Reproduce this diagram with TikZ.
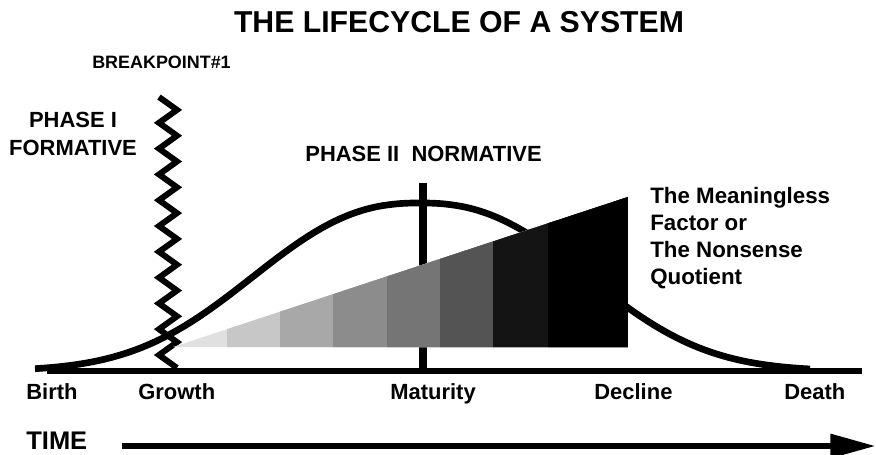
\documentclass[tikz,border=0pt]{standalone}
\usepackage{fontspec}
\setmainfont{Liberation Sans}
\usetikzlibrary{arrows.meta,positioning}

\begin{document}
\begin{tikzpicture}[x=0.02cm,y=-0.02cm,
    every node/.style={inner sep=0pt},
    lbl/.style={font=\fontsize{12.5}{15}\selectfont\bfseries},
    nlbl/.style={font=\fontsize{12.7}{15.5}\selectfont\bfseries},
    lifeline/.style={line width=3.8pt},
    rule/.style={line width=3.4pt}]
    \useasboundingbox (0,0) rectangle (876,454);

    % life curve
    \draw[lifeline] plot[smooth,domain=35:810,samples=90]
        (\x,{371-168*exp(-((abs(\x-420)+0.01)/210)^2.4)});

    % maturity marker
    \coordinate (mtop) at (423,183);
    \coordinate (mbot) at (423,371);
    \draw[line width=4pt] (mtop) -- (mbot);

    % breakpoint #1
    \draw[rule] (159,97) \foreach \k in {1,...,21}{ -- ({159+18*mod(\k,2)},{97+\k*12.9}) };

    % time axis
    \coordinate (axL) at (47,371);
    \coordinate (axR) at (862,371);
    \draw[rule] (axL) -- (axR);

    % nonsense wedge
    \begin{scope}
        \clip (173,347) -- (628,197) -- (628,347) -- cycle;
        \foreach \xa/\g in {173/88,227/78,280/66,333/55,387/46,440/33,493/8,548/0}
            \fill[white!\g!black] (\xa,190) rectangle (628,348);
    \end{scope}

    \node[font=\fontsize{17.2}{20}\selectfont\bfseries, anchor=base] (title) at (459,32) {THE LIFECYCLE OF A SYSTEM};
    \node[font=\fontsize{10.2}{12}\selectfont\bfseries, anchor=base] (bp) at (161.5,68) {BREAKPOINT\#1};
    \node[lbl, anchor=base] (ph1) at (73,127) {PHASE I};
    \node[lbl, anchor=base] (form) at ([yshift=-16.4pt]ph1.base) {FORMATIVE};
    \node[lbl, anchor=base west] (ph2) at (305,161) {PHASE II\ \ NORMATIVE};

    \node[nlbl, anchor=base west] (mf1) at (650,203) {The Meaningless};
    \node[nlbl, anchor=base west] (mf2) at ([yshift=-15.5pt]mf1.base west) {Factor or};
    \node[nlbl, anchor=base west] (mf3) at ([yshift=-15.5pt]mf2.base west) {The Nonsense};
    \node[nlbl, anchor=base west] (mf4) at ([yshift=-15.5pt]mf3.base west) {Quotient};

    \node[lbl, anchor=base west] (birth) at (26,399) {Birth};
    \node[lbl, anchor=base west] (growth) at (138,399) {Growth};
    \node[lbl, anchor=base west] (maturity) at (390,399) {Maturity};
    \node[lbl, anchor=base west] (decline) at (594,399) {Decline};
    \node[lbl, anchor=base west] (death) at (784,399) {Death};

    \node[font=\fontsize{14.5}{17}\selectfont\bfseries, anchor=base west] (time) at (26,449) {TIME};
    \coordinate (tL) at (122,446);
    \coordinate (tR) at (876,446);
    \draw[line width=3.8pt,-{Triangle[length=26pt,width=13pt]}] (tL) -- (tR);
\end{tikzpicture}
\end{document}
